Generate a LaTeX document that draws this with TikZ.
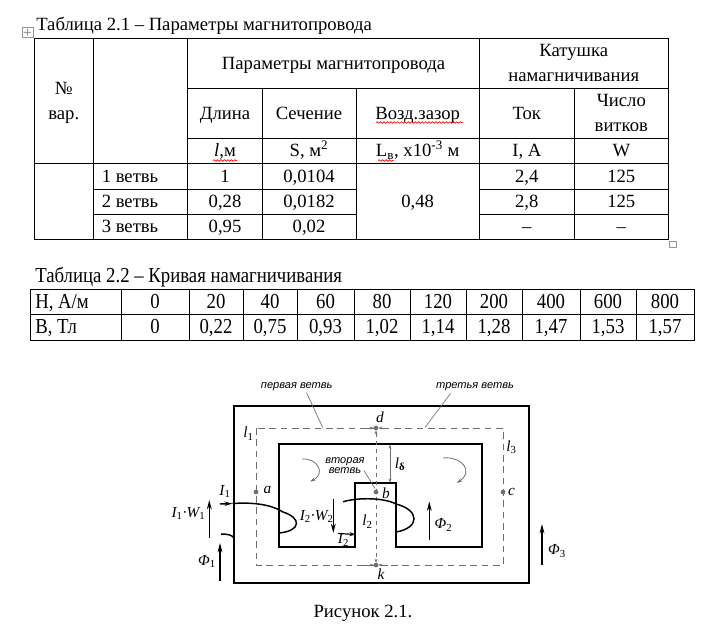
\documentclass[tikz,border=0pt]{standalone}
\usepackage{fontspec}
\setmainfont{Liberation Serif}
\newfontfamily\condfont[FakeStretch=0.88]{Liberation Serif}
\newfontfamily\lblfont{Liberation Sans}
\usepackage{xcolor}
\usetikzlibrary{arrows.meta}
\usetikzlibrary{decorations.pathmorphing}
\definecolor{gr}{RGB}{110, 110, 110}
\definecolor{hd}{RGB}{150, 150, 150}
\tikzset{
  cell/.style={inner sep=0pt, text height=10.5pt, text depth=1.8pt, font=\fontsize{14}{16}\selectfont},
  ccell/.style={inner sep=0pt, text height=11.2pt, text depth=2.2pt, font=\fontsize{16}{18}\condfont},
  grid/.style={line width=0.75pt},
  wavy/.style={red, line width=0.5pt, decorate, decoration={snake, amplitude=0.6pt, segment length=2.6pt}},
  core/.style={line width=1.5pt},
  mline/.style={gr, dashed, line width=0.7pt, dash pattern=on 5pt off 3.5pt},
  pt/.style={circle, fill=gr, draw=gr, inner sep=1.1pt},
  mlbl/.style={inner sep=0.5pt, font=\fontsize{11.5}{13}\selectfont\itshape},
  blbl/.style={inner sep=0.5pt, align=center, font=\fontsize{8.3}{8.8}\lblfont\itshape},
  flux/.style={line width=1.1pt, -{Stealth[length=7pt, width=3.6pt]}},
  wire/.style={line width=1.1pt},
  tick/.style={gr, line width=0.5pt, -{Stealth[length=3pt, width=2.2pt]}}
}
\begin{document}
\begin{tikzpicture}[x=0.75pt, y=-0.75pt]
    \useasboundingbox (0,0) rectangle (720,631);

    % Table 2.1
    \draw[hd, line width=0.5pt] (22,27) rectangle (33,37.5);
    \draw[hd, line width=0.4pt, {Stealth[length=1.5pt]}-{Stealth[length=1.5pt]}] (23.5,32.2) -- (31.5,32.2);
    \draw[hd, line width=0.4pt, {Stealth[length=1.5pt]}-{Stealth[length=1.5pt]}] (27.5,28.5) -- (27.5,36);
    \node[cell, anchor=west] (title1) at (36,25) {Таблица 2.1 – Параметры магнитопровода};
    \draw[grid] (34.3,38.3) rectangle (668.3,239.3);
    \draw[grid] (93.3,38.3) -- (93.3,239.3);
    \draw[grid] (187.7,38.3) -- (187.7,239.3);
    \draw[grid] (479.3,38.3) -- (479.3,239.3);
    \draw[grid] (262.3,88.3) -- (262.3,239.3);
    \draw[grid] (356,88.3) -- (356,239.3);
    \draw[grid] (574.3,88.3) -- (574.3,239.3);
    \draw[grid] (187.7,88.3) -- (668.3,88.3);
    \draw[grid] (187.7,138.3) -- (668.3,138.3);
    \draw[grid] (34.3,163.3) -- (668.3,163.3);
    \draw[grid] (93.3,189) -- (356,189);
    \draw[grid] (479.3,189) -- (668.3,189);
    \draw[grid] (93.3,214.3) -- (356,214.3);
    \draw[grid] (479.3,214.3) -- (668.3,214.3);
    \draw[hd, line width=0.5pt] (669.5,241) rectangle (676,247.5);

    \node[cell] (nr1) at (63.8,88.5) {№};
    \node[cell] (nr2) at (63.8,114) {вар.};
    \node[cell] (par) at (333.5,63.3) {Параметры магнитопровода};
    \node[cell] (kat1) at (573.8,51) {Катушка};
    \node[cell] (kat2) at (573.8,76) {намагничивания};
    \node[cell] (len) at (225,113.3) {Длина};
    \node[cell] (sec) at (309,113.3) {Сечение};
    \node[cell] (gap) at (417.7,113.3) {Возд.зазор};
    \node[cell] (cur) at (526.8,113.3) {Ток};
    \node[cell] (wn1) at (621.3,100.5) {Число};
    \node[cell] (wn2) at (621.3,126) {витков};
    \node[cell] (ul) at (225,151) {\textit{l},м};
    \node[cell] (us) at (309,151) {S, м\textsuperscript{2}};
    \node[cell] (ug) at (417.7,151) {L\textsubscript{в}, x10\textsuperscript{-3} м};
    \node[cell] (ui) at (526.8,151) {I, A};
    \node[cell] (uw) at (621.3,151) {W};
    \draw[wavy] (376,122.5) -- (463,122.5);
    \draw[wavy] (213,160.5) -- (237,160.5);
    \draw[wavy] (378,160.5) -- (393.5,160.5);

    \node[cell, anchor=west] (br1) at (101.5,176.2) {1 ветвь};
    \node[cell, anchor=west] (br2) at (101.5,201.6) {2 ветвь};
    \node[cell, anchor=west] (br3) at (101.5,226.8) {3 ветвь};
    \node[cell] (l1v) at (225,176.2) {1};
    \node[cell] (l2v) at (225,201.6) {0,28};
    \node[cell] (l3v) at (225,226.8) {0,95};
    \node[cell] (s1v) at (309,176.2) {0,0104};
    \node[cell] (s2v) at (309,201.6) {0,0182};
    \node[cell] (s3v) at (309,226.8) {0,02};
    \node[cell] (gv) at (417.7,201.6) {0,48};
    \node[cell] (i1v) at (526.8,176.2) {2,4};
    \node[cell] (i2v) at (526.8,201.6) {2,8};
    \node[cell] (i3v) at (526.8,226.8) {–};
    \node[cell] (w1v) at (621.3,176.2) {125};
    \node[cell] (w2v) at (621.3,201.6) {125};
    \node[cell] (w3v) at (621.3,226.8) {–};

    % Table 2.2
    \node[ccell, anchor=west] (title2) at (35,276.5) {Таблица 2.2 – Кривая намагничивания};
    \draw[grid] (30,289.5) rectangle (694,340);
    \draw[grid] (30,314.8) -- (694,314.8);
    \foreach \x in {121,189,243,297,354,410,466,522,580,636}
        \draw[grid] (\x,289.5) -- (\x,340);
    \node[ccell, anchor=west] (hh) at (35,302.3) {H, A/м};
    \node[ccell, anchor=west] (bh) at (35,327.5) {B, Тл};
    \foreach \c/\h/\b [count=\i] in {155/0/0, 216/20/{0,22}, 270/40/{0,75}, 325.5/60/{0,93},
        382/80/{1,02}, 438/120/{1,14}, 494/200/{1,28}, 551/400/{1,47}, 608/600/{1,53}, 665/800/{1,57}}
    {
        \node[ccell] (h\i) at (\c,302.3) {\h};
        \node[ccell] (b\i) at (\c,327.5) {\b};
    }

    % Figure 2.1: core
    \draw[core] (234,406) rectangle (529,583);
    \draw[core] (279,444) -- (482,444) -- (482,547) -- (396,547) -- (396,483)
        -- (355,483) -- (355,547) -- (279,547) -- cycle;
    \draw[mline] (256,428) rectangle (503,565);

    \node[pt] (d) at (376,428) {};
    \node[pt] (k) at (376,565) {};
    \node[pt] (a) at (256,492) {};
    \node[pt] (b) at (376,492) {};
    \node[pt] (c) at (503,492) {};
    \node[mlbl] (d-lbl) at (380,417) {d};
    \node[mlbl] (k-lbl) at (381,574) {k};
    \node[mlbl] (a-lbl) at (267.5,490) {a};
    \node[mlbl] (b-lbl) at (386,493) {b};
    \node[mlbl] (c-lbl) at (511.5,492) {c};

    % dimension marks
    \coordinate (dl) at (364,428);
    \coordinate (dr) at (388,428);
    \coordinate (kl) at (364,565);
    \coordinate (kr) at (388,565);
    \draw[tick] (dl) -- (d);
    \draw[tick] (dr) -- (d);
    \draw[tick] (kl) -- (k);
    \draw[tick] (kr) -- (k);
    \draw[mline, dash pattern=on 3.5pt off 2.5pt, line width=0.5pt,
        {Stealth[length=3pt, width=2.2pt]}-{Stealth[length=3pt, width=2.2pt]}] (d) -- (k);
    \coordinate (gt) at (390,444.5);
    \coordinate (gb) at (390,482.5);
    \draw[gr, line width=0.5pt, {Stealth[length=3pt, width=2.2pt]}-{Stealth[length=3pt, width=2.2pt]}] (gt) -- (gb);
    \node[mlbl] (ld) at (400,464) {l\textsubscript{\upshape\bfseries δ}};
    \node[mlbl] (l1) at (248.5,433.5) {l\textsubscript{\upshape 1}};
    \node[mlbl] (l2) at (367.5,521.5) {l\textsubscript{\upshape 2}};
    \node[mlbl] (l3) at (511.5,447.5) {l\textsubscript{\upshape 3}};

    % branch labels
    \node[blbl] (br-one) at (296.7,386.5) {первая ветвь};
    \node[blbl] (br-three) at (475,386.5) {третья ветвь};
    \node[blbl] (br-two) at (345,465.5) {вторая\\[-1.2pt]ветвь};
    \coordinate (p1) at (322.7,427.5);
    \coordinate (p3) at (425,427.5);
    \coordinate (p2) at (375,488.5);
    \draw[gr, line width=0.5pt] (306.5,392.5) -- (p1);
    \draw[gr, line width=0.5pt] (450.5,393.5) -- (p3);
    \draw[gr, line width=0.5pt] (364,470.5) -- (p2);

    % coils
    \coordinate (w1a) at (220,504);
    \coordinate (w1b) at (232.5,503.5);
    \draw[wire, -{Stealth[length=6pt, width=3.2pt]}] (w1a) -- (w1b);
    \draw[wire] (w1b) .. controls (255,502) and (272,505) .. (283,512)
        .. controls (302,518) and (301,531) .. (279,533);
    \coordinate (w1c) at (221,534);
    \coordinate (w1d) at (234,538);
    \draw[wire] (w1c) .. controls (228,534) and (232,535) .. (w1d);
    \coordinate (w2a) at (343,501.7);
    \coordinate (w2b) at (396,532);
    \draw[wire] (w2a) .. controls (360,497) and (385,498) .. (396,504)
        .. controls (420,510) and (420,528) .. (w2b);
    \node[mlbl] (i1) at (225,491.5) {I\textsubscript{\upshape 1}};
    \node[mlbl] (i2) at (343.5,540) {I\textsubscript{\upshape 2}};
    \coordinate (i2s) at (338,533.5);
    \coordinate (i2e) at (356,534.5);
    \draw[wire, line width=0.9pt, -{Stealth[length=5pt, width=3pt]}] (i2s) -- (i2e);

    % mmf and flux arrows
    \node[mlbl] (iw1) at (188.5,513.5) {I\textsubscript{\upshape 1}·W\textsubscript{\upshape 1}};
    \coordinate (iw1s) at (209.3,537.5);
    \coordinate (iw1e) at (209.3,500);
    \draw[flux] (iw1s) -- (iw1e);
    \node[mlbl] (iw2) at (316.7,516.5) {I\textsubscript{\upshape 2}·W\textsubscript{\upshape 2}};
    \coordinate (iw2s) at (333.3,499);
    \coordinate (iw2e) at (333.3,533);
    \draw[flux, line width=0.9pt] (iw2s) -- (iw2e);
    \node[mlbl] (f1) at (207,561.5) {Φ\textsubscript{\upshape 1}};
    \coordinate (f1s) at (220,581);
    \coordinate (f1e) at (220,543);
    \draw[flux] (f1s) -- (f1e);
    \node[mlbl] (f2) at (443.5,525) {Φ\textsubscript{\upshape 2}};
    \coordinate (f2s) at (429.3,539.5);
    \coordinate (f2e) at (429.3,501.5);
    \draw[flux] (f2s) -- (f2e);
    \node[mlbl] (f3) at (557,551) {Φ\textsubscript{\upshape 3}};
    \coordinate (f3s) at (542,565);
    \coordinate (f3e) at (542,524);
    \draw[flux] (f3s) -- (f3e);

    % loop arrows in the windows
    \coordinate (la) at (302,459);
    \coordinate (lb) at (310,481.5);
    \draw[gr, line width=0.6pt, -{Stealth[length=4pt, width=2.6pt]}] (la) .. controls (318,458) and (326,474) .. (lb);
    \coordinate (ra) at (443,458);
    \coordinate (rb) at (457,483);
    \draw[gr, line width=0.6pt, -{Stealth[length=4pt, width=2.6pt]}] (ra) .. controls (460,456) and (475,470) .. (rb);

    \node[cell] (cap) at (363,611.5) {Рисунок 2.1.};
\end{tikzpicture}
\end{document}
